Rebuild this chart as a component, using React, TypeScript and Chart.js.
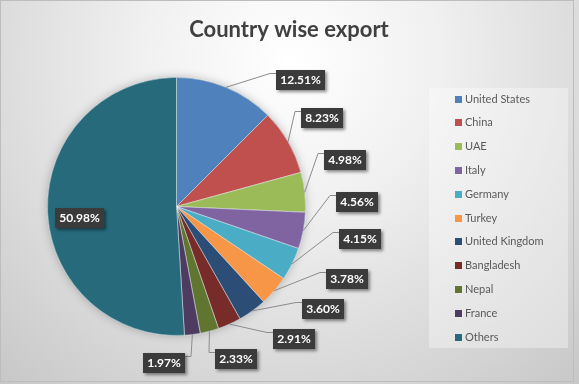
import React, { useEffect, useRef } from "react";
import { Chart, registerables } from "chart.js";

Chart.register(...registerables);

const chartTitle = "Country wise export";
const categories = [
  "United States",
  "China",
  "UAE",
  "Italy",
  "Germany",
  "Turkey",
  "United Kingdom",
  "Bangladesh",
  "Nepal",
  "France",
  "Others",
];
const shares = [12.51, 8.23, 4.98, 4.56, 4.15, 3.78, 3.6, 2.91, 2.33, 1.97, 50.98];
const sliceColors = [
  "#4F81BD",
  "#C0504D",
  "#9BBB59",
  "#8064A2",
  "#4BACC6",
  "#F79646",
  "#2C4D75",
  "#772C2A",
  "#5F7530",
  "#4D3B62",
  "#276A7C",
];
// data-label placement (polar, relative to pie centre): angle in degrees, distance in radii
const labelAngles = [-45.5, -31.2, -15.3, -1.4, 10.0, 22.9, 35.0, 48.4, 68.5, 94.4, 173.3];
const labelDistances = [1.371, 1.318, 1.354, 1.396, 1.445, 1.435, 1.391, 1.373, 1.267, 1.213, 0.761];

const FONT = "Lato, 'Open Sans', sans-serif";

const backgroundPlugin = {
  id: "excelBackground",
  beforeDraw(chart: any) {
    const { ctx, width, height } = chart;
    ctx.save();
    const g = ctx.createRadialGradient(290, 60, 0, 290, 60, 430);
    g.addColorStop(0, "#ffffff");
    g.addColorStop(0.35, "#f0f0f0");
    g.addColorStop(1, "#c8c8c8");
    ctx.fillStyle = g;
    ctx.fillRect(0, 0, width, height);
    ctx.strokeStyle = "#bdbdbd";
    ctx.lineWidth = 1;
    ctx.strokeRect(0.5, 0.5, 573, 381);

    // title
    ctx.fillStyle = "#404040";
    ctx.font = `bold 22px ${FONT}`;
    ctx.textAlign = "center";
    ctx.textBaseline = "alphabetic";
    ctx.fillText(chartTitle, 289, 37);

    // legend
    ctx.fillStyle = "rgba(255,255,255,0.35)";
    ctx.fillRect(429, 88, 139, 260);
    const labels = chart.data.labels as string[];
    const colors = chart.data.datasets[0].backgroundColor as string[];
    ctx.font = `11px ${FONT}`;
    ctx.textAlign = "left";
    ctx.textBaseline = "middle";
    labels.forEach((lab, i) => {
      const y = 99 + i * 23.8;
      ctx.fillStyle = colors[i];
      ctx.fillRect(455, Math.round(y - 3.5), 7, 7);
      ctx.fillStyle = "#595959";
      ctx.fillText(lab, 465, y);
    });
    ctx.restore();
  },
  beforeDatasetsDraw(chart: any) {
    const arc = chart.getDatasetMeta(0).data[0];
    if (!arc) return;
    const { x, y, outerRadius } = arc.getProps(["x", "y", "outerRadius"], true);
    const { ctx } = chart;
    ctx.save();
    ctx.shadowColor = "rgba(0,0,0,0.25)";
    ctx.shadowBlur = 10;
    ctx.beginPath();
    ctx.arc(x, y, outerRadius, 0, Math.PI * 2);
    ctx.fillStyle = "#276A7C";
    ctx.fill();
    ctx.restore();
  },
};

const dataLabelPlugin = {
  id: "excelDataLabels",
  afterDatasetsDraw(chart: any) {
    const { ctx } = chart;
    const meta = chart.getDatasetMeta(0);
    const values = chart.data.datasets[0].data as number[];
    ctx.save();
    ctx.font = `bold 12px ${FONT}`;
    meta.data.forEach((el: any, i: number) => {
      const { x, y, startAngle, endAngle, outerRadius } = el.getProps(
        ["x", "y", "startAngle", "endAngle", "outerRadius"],
        true
      );
      const mid = (startAngle + endAngle) / 2;
      const a = (labelAngles[i] * Math.PI) / 180;
      const cx = x + labelDistances[i] * outerRadius * Math.cos(a);
      const cy = y + labelDistances[i] * outerRadius * Math.sin(a);
      const text = values[i].toFixed(2) + "%";
      const w = Math.round(ctx.measureText(text).width + 8);
      const h = 20;
      const left = Math.round(cx - w / 2);
      const top = Math.round(cy - h / 2);

      if (labelDistances[i] > 1) {
        const sx = x + outerRadius * Math.cos(mid);
        const sy = y + outerRadius * Math.sin(mid);
        const ay = top + 3.5;
        const onRight = cx >= x;
        const ax = onRight ? left : left + w;
        const ex = onRight ? ax - 6 : ax + 6;
        ctx.strokeStyle = "#8c8c8c";
        ctx.lineWidth = 1;
        ctx.beginPath();
        ctx.moveTo(sx, sy);
        ctx.lineTo(ex, ay);
        ctx.lineTo(ax, ay);
        ctx.stroke();
      }

      ctx.save();
      ctx.shadowColor = "rgba(0,0,0,0.45)";
      ctx.shadowBlur = 3;
      ctx.shadowOffsetX = 2;
      ctx.shadowOffsetY = 2;
      ctx.fillStyle = "#3b3b3b";
      ctx.fillRect(left, top, w, h);
      ctx.restore();

      ctx.fillStyle = "#ffffff";
      ctx.textAlign = "center";
      ctx.textBaseline = "middle";
      ctx.fillText(text, left + w / 2, top + h / 2 + 0.5);
    });
    ctx.restore();
  },
};

export default function App() {
  const canvasRef = useRef<HTMLCanvasElement | null>(null);

  useEffect(() => {
    const canvas = canvasRef.current;
    if (!canvas) return;
    const chart = new Chart(canvas, {
      type: "pie",
      data: {
        labels: categories,
        datasets: [
          {
            data: shares,
            backgroundColor: sliceColors,
            borderColor: "rgba(255,255,255,0.45)",
            borderWidth: 1,
          },
        ],
      },
      options: {
        responsive: false,
        devicePixelRatio: 1,
        animation: false,
        rotation: 0,
        layout: { padding: { left: 47, top: 77, right: 273, bottom: 48 } },
        plugins: {
          legend: { display: false },
          title: { display: false },
          tooltip: { enabled: false },
        },
      },
      plugins: [backgroundPlugin, dataLabelPlugin],
    });
    return () => chart.destroy();
  }, []);

  return (
    <div style={{ position: "absolute", left: 0, top: 0, width: 579, height: 384 }}>
      <canvas ref={canvasRef} width={579} height={384} style={{ display: "block" }} />
    </div>
  );
}
